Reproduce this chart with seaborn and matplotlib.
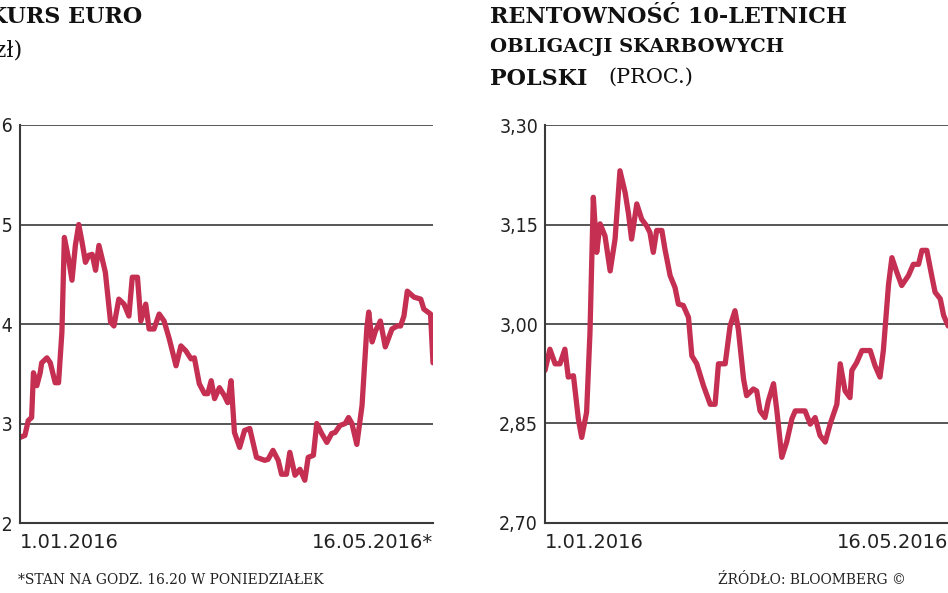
import matplotlib
matplotlib.use("Agg")
import matplotlib.pyplot as plt
import seaborn as sns

# EUR/PLN, days since 1.01.2016
eur_days = [0, 1.6, 2.7, 3.8, 4.4, 5.5, 6.6, 7.1, 8.8, 9.9, 11.5, 12.6, 13.7, 14.5, 15.9,
            17.0, 18.1, 19.2, 20.3, 21.4, 22.5, 23.6, 24.7, 25.8, 26.9, 27.9, 29.6, 30.7,
            32.3, 34.0, 35.6, 36.7, 38.4, 39.5, 41.1, 42.2, 43.8, 45.5, 47.1, 48.8, 51.0,
            52.6, 54.2, 55.9, 57.0, 58.6, 60.3, 61.4, 62.5, 63.6, 65.2, 66.8, 67.9, 69.0,
            70.1, 71.8, 73.4, 75.1, 77.3, 80.0, 81.1, 82.7, 84.4, 85.5, 87.1, 88.2, 89.9,
            91.5, 93.1, 94.2, 95.9, 97.0, 98.6, 100.3, 101.9, 103.0, 104.6, 106.3, 107.4,
            108.5, 110.1, 111.8, 113.4, 114.0, 115.1, 116.2, 117.8, 119.4, 121.6, 123.3,
            124.4, 125.5, 126.6, 128.8, 131.0, 132.0, 134.2, 135.0]
eur_rate = [4.286, 4.288, 4.303, 4.306, 4.351, 4.338, 4.351, 4.361, 4.366, 4.361, 4.341,
            4.341, 4.392, 4.487, 4.465, 4.444, 4.479, 4.500, 4.482, 4.462, 4.469, 4.470,
            4.454, 4.479, 4.465, 4.452, 4.402, 4.398, 4.425, 4.420, 4.408, 4.447, 4.447,
            4.403, 4.420, 4.395, 4.395, 4.410, 4.403, 4.385, 4.358, 4.378, 4.373, 4.365,
            4.366, 4.340, 4.330, 4.330, 4.343, 4.325, 4.336, 4.328, 4.321, 4.343, 4.291,
            4.276, 4.293, 4.295, 4.266, 4.263, 4.264, 4.273, 4.263, 4.249, 4.249, 4.271,
            4.248, 4.254, 4.243, 4.266, 4.268, 4.300, 4.290, 4.281, 4.290, 4.291, 4.298,
            4.300, 4.306, 4.300, 4.279, 4.318, 4.397, 4.412, 4.382, 4.393, 4.403, 4.377,
            4.395, 4.398, 4.398, 4.408, 4.433, 4.427, 4.425, 4.415, 4.410, 4.361]

# 10Y Polish bond yield
bond_days = [0, 1.6, 3.3, 4.9, 6.5, 7.6, 9.3, 10.9, 12.0, 13.6, 14.7, 15.8, 16.9, 18.0,
             19.6, 21.3, 22.9, 24.5, 26.2, 27.3, 28.3, 30.0, 31.6, 33.2, 34.3, 35.4, 36.5,
             38.2, 39.2, 40.9, 42.5, 43.6, 45.2, 46.9, 48.0, 49.6, 51.8, 54.0, 55.6, 56.7,
             58.9, 60.5, 62.1, 63.2, 64.9, 65.9, 68.1, 69.2, 70.3, 71.9, 73.0, 74.7, 75.8,
             77.4, 79.0, 80.7, 81.8, 85.0, 86.7, 88.3, 89.9, 91.6, 93.2, 95.4, 96.5, 98.1,
             99.7, 100.3, 101.9, 103.6, 106.3, 107.9, 109.5, 110.6, 112.3, 113.4, 115.0,
             116.6, 118.8, 120.4, 122.1, 123.2, 124.8, 126.4, 127.5, 129.2, 130.3, 131.8]
bond_yield = [2.930, 2.962, 2.940, 2.940, 2.962, 2.920, 2.922, 2.857, 2.829, 2.867, 2.987,
              3.191, 3.108, 3.151, 3.133, 3.080, 3.128, 3.231, 3.198, 3.166, 3.128, 3.181,
              3.158, 3.148, 3.138, 3.108, 3.141, 3.141, 3.113, 3.073, 3.055, 3.030, 3.028,
              3.010, 2.952, 2.940, 2.907, 2.879, 2.879, 2.940, 2.940, 2.997, 3.020, 2.992,
              2.917, 2.892, 2.902, 2.899, 2.869, 2.859, 2.884, 2.910, 2.869, 2.799, 2.822,
              2.857, 2.869, 2.869, 2.849, 2.859, 2.832, 2.822, 2.849, 2.879, 2.940, 2.899,
              2.889, 2.930, 2.942, 2.960, 2.960, 2.937, 2.920, 2.960, 3.060, 3.100, 3.078,
              3.058, 3.073, 3.090, 3.090, 3.111, 3.111, 3.073, 3.048, 3.038, 3.013, 2.997]

eur_ticks = [4.2, 4.3, 4.4, 4.5, 4.6]
eur_labels = ["4,2", "4,3", "4,4", "4,5", "4,6"]
bond_ticks = [2.70, 2.85, 3.00, 3.15, 3.30]
bond_labels = ["2,70", "2,85", "3,00", "3,15", "3,30"]

RED = "#c42f52"
GRID = "#3a3a3a"

sns.set_theme(style="white")
plt.rcParams["font.family"] = ["DejaVu Sans"]

W, H = 948, 593
fig = plt.figure(figsize=(W / 100, H / 100), dpi=100)


def panel(left_px, days, values, ticks, labels):
    ax = fig.add_axes([left_px / W, (H - 523) / H, 413 / W, 398 / H])
    sns.lineplot(x=days, y=values, ax=ax, color=RED, linewidth=3.8)
    ax.set_xlim(0, 135)
    ax.set_ylim(ticks[0], ticks[-1])
    ax.set_yticks(ticks)
    ax.set_yticklabels(labels, fontsize=14, color="#222222", fontstretch="condensed")
    ax.set_xticks([])
    for y in ticks:
        ax.axhline(y, color=GRID, linewidth=1.2, zorder=0)
    for s in ["top", "right"]:
        ax.spines[s].set_visible(False)
    ax.spines["left"].set_color(GRID)
    ax.spines["left"].set_linewidth(1.5)
    ax.spines["bottom"].set_color(GRID)
    ax.spines["bottom"].set_linewidth(1.5)
    ax.tick_params(axis="y", length=0, pad=5)
    ax.text(0, -0.025, "1.01.2016", transform=ax.transAxes, ha="left", va="top",
            fontsize=14, color="#222222")
    ax.text(1, -0.025, "16.05.2016*", transform=ax.transAxes, ha="right", va="top",
            fontsize=14, color="#222222")
    ax.set_xlabel("")
    ax.set_ylabel("")
    return ax


panel(20, eur_days, eur_rate, eur_ticks, eur_labels)
panel(545, bond_days, bond_yield, bond_ticks, bond_labels)

tkw = dict(family="DejaVu Serif", fontweight="bold", color="#111111", va="top")
fig.text(-12 / W, 1 - 6 / H, "KURS EURO", fontsize=16, **tkw)
fig.text(-14 / W, 1 - 40 / H, "(zł)", fontsize=16, family="DejaVu Serif",
         color="#111111", va="top")
fig.text(490 / W, 1 - 6 / H, "RENTOWNOŚĆ 10-LETNICH", fontsize=16, **tkw)
fig.text(490 / W, 1 - 38 / H, "OBLIGACJI SKARBOWYCH", fontsize=14, **tkw)
fig.text(490 / W, 1 - 68 / H, "POLSKI", fontsize=16, **tkw)
fig.text(608 / W, 1 - 68 / H, "(PROC.)", fontsize=15, family="DejaVu Serif",
         color="#111111", va="top")

fig.text(18 / W, 1 - 580 / H, "*STAN NA GODZ. 16.20 W PONIEDZIAŁEK", fontsize=10,
         family="DejaVu Serif", color="#222222", va="center")
fig.text(718 / W, 1 - 580 / H, "ŹRÓDŁO: BLOOMBERG ©", fontsize=10,
         family="DejaVu Serif", color="#222222", va="center")

fig.savefig("out.png", dpi=100)
